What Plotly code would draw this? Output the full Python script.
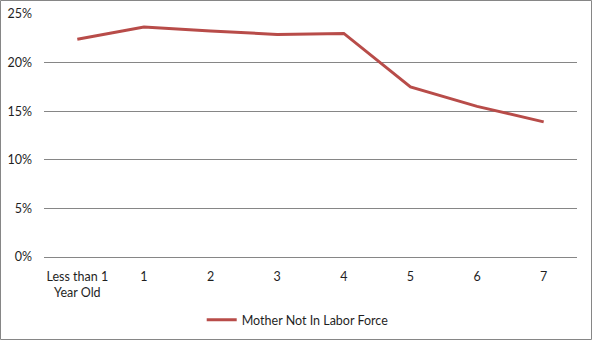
import plotly.graph_objects as go

categories = ["Less than 1<br>Year Old", "1", "2", "3", "4", "5", "6", "7"]
values = [0.224, 0.2366, 0.2325, 0.229, 0.230, 0.175, 0.155, 0.139]
series_name = "Mother Not In Labor Force"
y_ticks = [0, 0.05, 0.10, 0.15, 0.20, 0.25]

W, H = 592, 340
ml, mr, mt, mb = 44, 15, 14, 83
pw, ph = W - ml - mr, H - mt - mb

fig = go.Figure()
fig.add_trace(go.Scatter(
    x=list(range(len(categories))), y=values, mode="lines", name=series_name,
    line=dict(color="#B84C49", width=3),
))

fig.update_layout(
    width=W, height=H,
    margin=dict(l=ml, r=mr, t=mt, b=mb, autoexpand=False),
    paper_bgcolor="white", plot_bgcolor="white",
    font=dict(family="Lato, Open Sans, sans-serif", size=12.5, color="#1f1f1f"),
    showlegend=True,
    legend=dict(orientation="h", x=0.476, xanchor="center", y=-63 / ph, yanchor="middle",
                font=dict(size=12.5), itemwidth=30),
    xaxis=dict(
        range=[-0.5, len(categories) - 0.5],
        tickmode="array", tickvals=list(range(len(categories))), ticktext=categories,
        showgrid=False, zeroline=False, showline=False, ticks="",
        ticklabelstandoff=10, fixedrange=True,
    ),
    yaxis=dict(
        range=[0, 0.25], tickvals=y_ticks, tickformat=".0%",
        showgrid=True, gridcolor="#868686", gridwidth=1,
        zeroline=True, zerolinecolor="#868686", zerolinewidth=1,
        showline=False, ticks="", ticklabelstandoff=11,
    ),
    shapes=[dict(
        type="rect", xref="paper", yref="paper",
        x0=-(ml - 0.5) / pw, x1=1 + (mr - 0.5) / pw,
        y0=-(mb - 0.5) / ph, y1=1 + (mt - 0.5) / ph,
        line=dict(color="#868686", width=1), fillcolor="rgba(0,0,0,0)",
        layer="above",
    )],
)

fig.write_html("out.html")
